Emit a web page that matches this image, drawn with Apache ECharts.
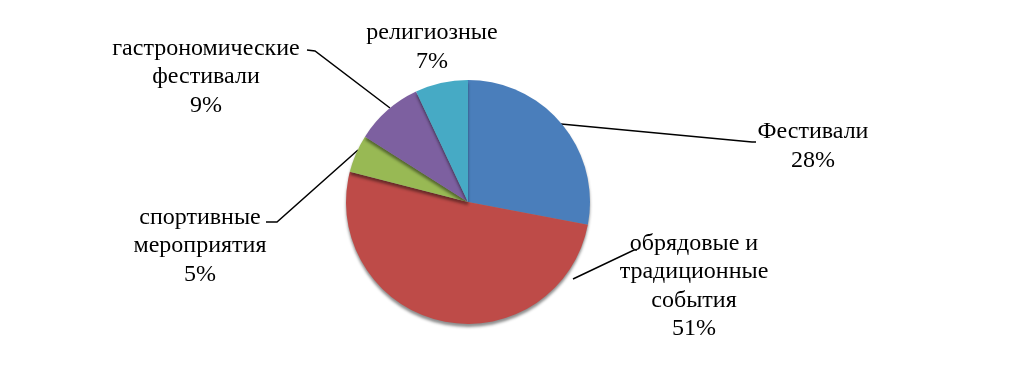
<!DOCTYPE html>
<html><head><meta charset="utf-8">
<script src="https://cdn.jsdelivr.net/npm/echarts@6/dist/echarts.min.js"></script>
<style>html,body{margin:0;padding:0;background:#fff}#c{width:1035px;height:376px}</style>
</head><body><div id="c"></div>
<script>
const categories = ['Фестивали', 'обрядовые и\nтрадиционные\nсобытия', 'спортивные\nмероприятия', 'гастрономические\nфестивали', 'религиозные'];
const values = [28, 51, 5, 9, 7];
const colors = ['#4A7EBB', '#BE4B48', '#98B954', '#7D60A0', '#46AAC5'];

const labelPos = [
  {x: 813, y: 146, line: [[561,124],[752,142],[756,142]]},
  {x: 694, y: 286, line: [[573,279],[634,250],[637,250]]},
  {x: 200, y: 246, line: [[358,150],[277,222],[266,222]]},
  {x: 206, y: 77,  line: [[390,108],[315,51],[307,50]]},
  {x: 432, y: 47,  line: null}
];

const chart = echarts.init(document.getElementById('c'), null, {renderer: 'canvas'});
chart.setOption({
  backgroundColor: '#fff',
  animation: false,
  series: [{
    type: 'pie',
    center: [468, 202],
    radius: 122,
    startAngle: 90,
    clockwise: true,
    data: categories.map((n, i) => ({name: n, value: values[i], itemStyle: {color: colors[i]}})),
    itemStyle: {shadowColor: 'rgba(0,0,0,0.45)', shadowOffsetY: 3, shadowBlur: 3},
    label: {
      show: true, position: 'outside',
      formatter: '{b}\n{d}%',
      fontFamily: '"Liberation Serif", "Times New Roman", serif',
      fontSize: 24, lineHeight: 28.5, color: '#000', align: 'center'
    },
    labelLine: {show: true, lineStyle: {color: '#000', width: 1.5}},
    labelLayout: function (p) {
      const L = labelPos[p.dataIndex];
      const r = {x: L.x, y: L.y, align: 'center', verticalAlign: 'middle'};
      if (L.line) r.labelLinePoints = L.line; else r.labelLinePoints = [[L.x, L.y],[L.x, L.y],[L.x, L.y]];
      return r;
    }
  }]
});
</script></body></html>
